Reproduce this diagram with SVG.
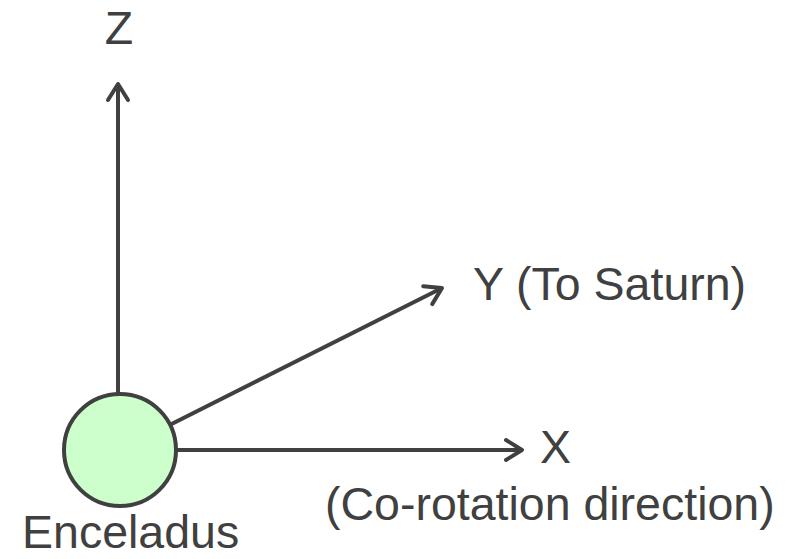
<svg xmlns="http://www.w3.org/2000/svg" width="800" height="559" viewBox="0 0 800 559">
  <style>
    .axis { stroke: #404040; stroke-width: 4; fill: none; marker-end: url(#arrow); }
    .lbl { font-family: "Liberation Sans", Arial, sans-serif; font-size: 46.5px; fill: #404040; }
    .body { fill: #ccffcc; stroke: #404040; stroke-width: 4; }
  </style>
  <defs>
    <marker id="arrow" viewBox="-22 -14 26 28" markerWidth="26" markerHeight="28" refX="0" refY="0" markerUnits="userSpaceOnUse" orient="auto">
      <path d="M -16 -10 L 0 0 L -16 10" fill="none" stroke="#404040" stroke-width="4" stroke-linecap="round" stroke-linejoin="round"/>
    </marker>
  </defs>
  <rect width="800" height="559" fill="#ffffff"/>
  <g id="connectors">
    <line id="z-axis" class="axis" x1="118" y1="450" x2="118" y2="84"/>
    <line id="y-axis" class="axis" x1="120" y1="450" x2="442" y2="288"/>
    <line id="x-axis" class="axis" x1="120" y1="450" x2="522" y2="450"/>
  </g>
  <g id="enceladus">
    <circle class="body" cx="120" cy="450" r="56"/>
    <text class="lbl" x="22" y="548">Enceladus</text>
  </g>
  <g id="z-label">
    <text class="lbl" x="119" y="44" text-anchor="middle">Z</text>
  </g>
  <g id="y-label">
    <text class="lbl" x="473" y="300">Y (To Saturn)</text>
  </g>
  <g id="x-label">
    <text class="lbl" x="540" y="463">X</text>
    <text class="lbl" x="325" y="520">(Co-rotation direction)</text>
  </g>
</svg>
